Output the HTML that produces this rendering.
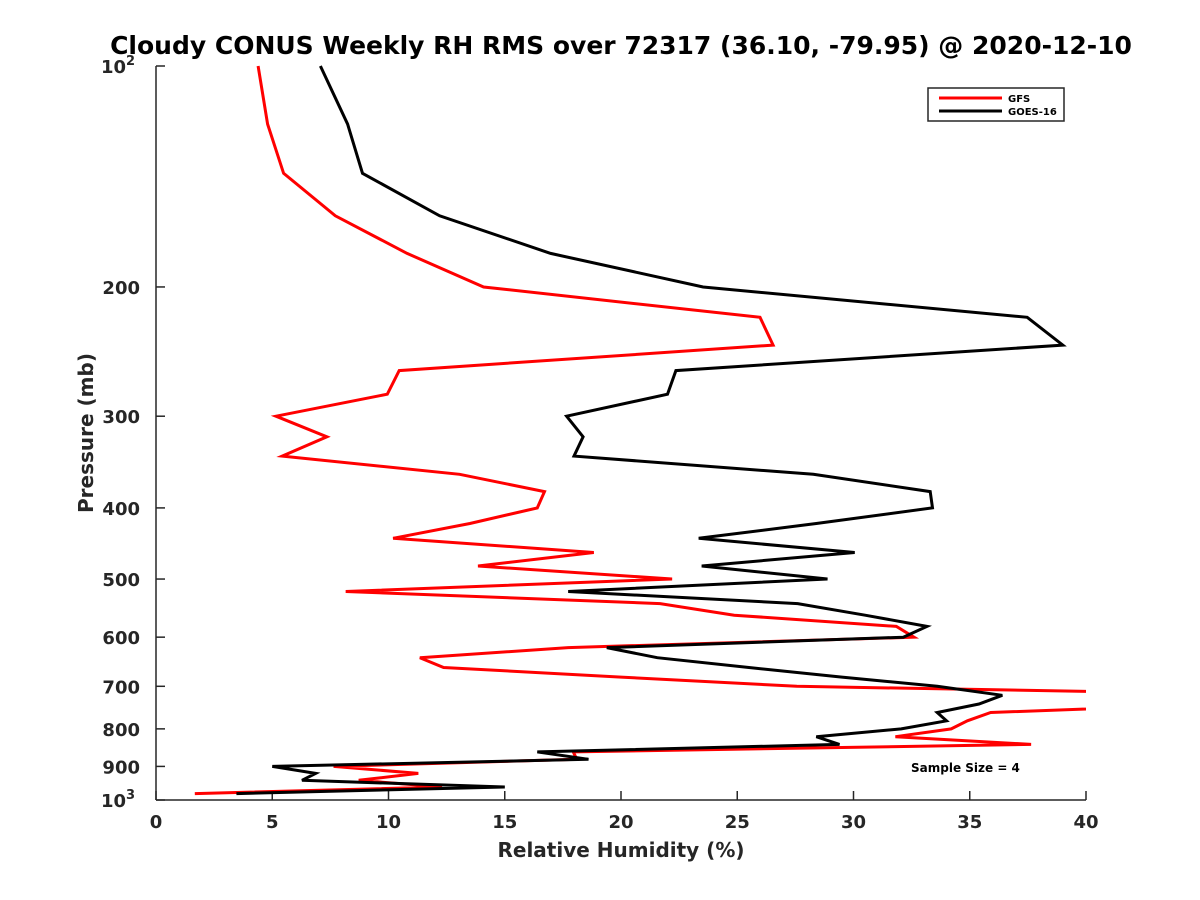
<!DOCTYPE html>
<html><head><meta charset="utf-8"><style>
body{margin:0;background:#fff;}
svg{display:block;font-family:"DejaVu Sans","Liberation Sans",sans-serif;font-weight:bold;}
</style></head><body>
<svg id="chart" width="1200" height="900" viewBox="0 0 1200 900">
<defs><clipPath id="pa"><rect x="156" y="60" width="930" height="745"/></clipPath></defs>
<text x="621" y="54" text-anchor="middle" font-size="25" fill="#000">Cloudy CONUS Weekly RH RMS over 72317 (36.10, -79.95) @ 2020-12-10</text>
<g id="axes"></g>
<g id="series" clip-path="url(#pa)"></g>
<text x="621" y="857" text-anchor="middle" font-size="20" fill="#262626">Relative Humidity (%)</text>
<text transform="translate(93,433) rotate(-90)" text-anchor="middle" font-size="20" fill="#262626">Pressure (mb)</text>
<g>
<rect x="928" y="88" width="136" height="33" fill="#fff" stroke="#262626" stroke-width="1.5"/>
<line x1="939" y1="98" x2="1002" y2="98" stroke="#f00" stroke-width="3"/>
<text x="1008" y="102" font-size="10" fill="#000">GFS</text>
<line x1="939" y1="111" x2="1002" y2="111" stroke="#000" stroke-width="3"/>
<text x="1008" y="115" font-size="10" fill="#000">GOES-16</text>
</g>
<text x="911" y="772" font-size="12" fill="#000">Sample Size = 4</text>
</svg>
<script>
const pressures=[100,120,140,160,180,200,220,240,260,280,300,320,340,360,380,400,420,440,460,480,500,520,540,560,580,600,620,640,660,680,700,720,740,760,780,800,820,840,860,880,900,920,940,960,980];
const gfsValues=[4.39,4.8,5.49,7.71,10.8,14.09,25.98,26.54,10.46,9.95,5.16,7.35,5.43,13.06,16.71,16.4,13.5,10.2,18.83,13.85,22.2,8.16,21.68,24.87,31.84,32.6,17.73,11.35,12.37,20.0,27.56,49.5,46.0,35.9,34.9,34.2,31.8,37.64,17.95,18.1,7.64,11.28,8.72,12.3,1.67];
const goesValues=[7.07,8.24,8.88,12.2,16.97,23.53,37.47,39.0,22.36,22.0,17.66,18.37,17.98,28.27,33.3,33.4,28.4,23.34,30.05,23.47,28.88,17.73,27.6,30.5,33.16,32.14,19.39,21.56,25.5,29.5,33.6,36.4,35.4,33.6,34.0,32.05,28.4,29.4,16.4,18.6,5.0,6.87,6.28,15.0,3.46];
const xTicks=[0,5,10,15,20,25,30,35,40];
const yTicks=[100,200,300,400,500,600,700,800,900,1000];
const yTickLabels=["10^2","200","300","400","500","600","700","800","900","10^3"];
const NS="http://www.w3.org/2000/svg";
const X0=156,X1=1086,Y0=66,Y1=800;
function xs(v){return X0+(v-0)/40*(X1-X0);}
function ys(p){return Y0+(Math.log10(p)-2)*(Y1-Y0);}
function mk(t,a,parent){const e=document.createElementNS(NS,t);for(const k in a)e.setAttribute(k,a[k]);parent.appendChild(e);return e;}
const ax=document.getElementById('axes');
const yl=mk('line',{x1:X0,y1:Y0,x2:X0,y2:Y1,stroke:'#262626','stroke-width':1.5},ax);


const xl=mk('line',{x1:X0,y1:Y1,x2:X1,y2:Y1,stroke:'#262626','stroke-width':1.5},ax);


xTicks.forEach(v=>{
  const t=mk('line',{x1:xs(v),y1:Y1,x2:xs(v),y2:Y1-9,stroke:'#262626','stroke-width':1.5},ax);
  
  
  const l=mk('text',{x:xs(v),y:Y1+28,'text-anchor':'middle','font-size':18,fill:'#262626'},ax);
  l.textContent=v;
  
  
});
yTicks.forEach((p,i)=>{
  const y=ys(p);
  const t=mk('line',{x1:X0,y1:y,x2:X0+9,y2:y,stroke:'#262626','stroke-width':1.5},ax);
  
  
  const lab=yTickLabels[i];
  const l=mk('text',{x:X0-16,y:y+7,'text-anchor':'end','font-size':18,fill:'#262626'},ax);
  if(lab.indexOf('^')>=0){
    const parts=lab.split('^');
    l.setAttribute('x',X0-30);
    l.textContent=parts[0];
    const s=mk('text',{x:X0-30,y:y-1,'font-size':13,fill:'#262626'},ax);
    s.textContent=parts[1];
    
    
  } else l.textContent=lab;
  
  
});
const sg=document.getElementById('series');
function drawLine(vals,color,name){
  const pts=vals.map((v,i)=>xs(v).toFixed(1)+','+ys(pressures[i]).toFixed(1)).join(' ');
  const pl=mk('polyline',{points:pts,fill:'none',stroke:color,'stroke-width':3,'stroke-linejoin':'miter'},sg);
  
  
}
drawLine(gfsValues,'#f00','gfs-line');
drawLine(goesValues,'#000','goes16-line');
</script>
</body></html>
